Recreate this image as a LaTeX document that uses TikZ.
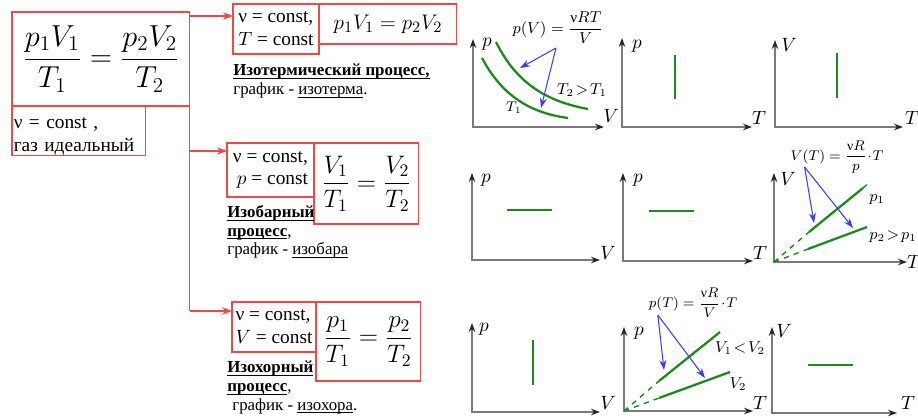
\documentclass[tikz,border=0pt]{standalone}
\usepackage{fontspec}
\setmainfont{Liberation Serif}
\usepackage{amsmath}
\usetikzlibrary{arrows.meta, calc, positioning}
\definecolor{Frame}   {HTML}{F04848}
\definecolor{IsoGreen}{HTML}{1E8A1E}
\definecolor{Pointer} {HTML}{3C3CF5}
\definecolor{AxisGrey}{HTML}{7A7A7A}
\newcommand{\uln}[1]{\underline{\smash[b]{#1}}}

\begin{document}
\begin{tikzpicture}[
  x=0.02cm, y=-0.02cm,
  font=\fontsize{11}{13}\selectfont,
  frame/.style={draw=Frame, line width=0.6pt, outer sep=0pt, inner sep=1pt, anchor=north west},
  cond/.style={frame, align=left},
  law/.style={font=\fontsize{14}{16}\selectfont},
  caption/.style={anchor=north west, align=left, inner sep=0pt, font=\fontsize{9.6}{10.6}\selectfont},
  link/.style={-{Stealth[length=2mm, width=1.5mm]}, draw=Frame, line width=0.6pt},
  axis/.style={{Stealth[length=1.8mm, width=1.3mm, color=black!85]}-{Stealth[length=1.8mm, width=1.3mm, color=black!85]},
               draw=AxisGrey, line width=0.7pt},
  ax/.style={font=\fontsize{11}{12}\selectfont, inner sep=1pt},
  iso/.style={draw=IsoGreen, line width=1.3pt},
  extra/.style={draw=IsoGreen, line width=0.8pt, dashed},
  ptr/.style={-{Stealth[length=2mm, width=1.4mm]}, draw=Pointer, line width=0.6pt},
  small/.style={font=\fontsize{8.6}{10}\selectfont, inner sep=1pt},
  tiny/.style={font=\fontsize{7.8}{9}\selectfont, inner sep=1pt}
]
  \useasboundingbox (0,0) rectangle (918,418);

  % combined gas law and its conditions
  \node[frame, minimum width=3.56cm, minimum height=1.88cm] (eq) at (12,12)
      {\fontsize{16.5}{20}\selectfont $\displaystyle\frac{p_1V_1}{T_1}=\frac{p_2V_2}{T_2}$};
  \node[cond, text width=2.6cm, inner ysep=0pt, minimum height=1cm] (gas) at (eq.south west)
      {\rule{0pt}{12.5pt}ν = const ,\\газ идеальный};

  % isothermal
  \node[cond, minimum width=1.72cm, minimum height=1cm] (condT) at (233,4)
      {ν = const,\\$T$ = const};
  \node[frame, law, minimum width=2.76cm, minimum height=0.8cm] (lawT) at (condT.north east)
      {\fontsize{13}{15}\selectfont $p_1V_1 = p_2V_2$};
  \node[caption] (capT) at (233,64)
      {\uln{\textbf{Изотермический процесс,}}\\график - \uln{изотерма}.};

  % isobaric
  \node[cond, minimum width=1.74cm, minimum height=1.08cm] (condP) at (227,143)
      {ν = const,\\\hspace*{0.8mm}$p$ = const};
  \node[frame, law, minimum width=2.1cm, minimum height=1.62cm] (lawP) at (condP.north east)
      {$\displaystyle\frac{V_1}{T_1}=\frac{V_2}{T_2}$};
  \node[caption] (capP) at (227,205)
      {\uln{\textbf{Изобарный}}\\\uln{\textbf{процесс}},\\график - \uln{изобара}};

  % isochoric
  \node[cond, minimum width=1.68cm, minimum height=1cm] (condV) at (232,302)
      {ν = const,\\$V$ = const};
  \node[frame, law, minimum width=2.1cm, minimum height=1.58cm] (lawV) at (condV.north east)
      {$\displaystyle\frac{p_1}{T_1}=\frac{p_2}{T_2}$};
  \node[caption] (capV) at (227,361)
      {\uln{\textbf{Изохорный}}\\\uln{\textbf{процесс}},\\\hspace*{1mm}график - \uln{изохора}.};

  % branches from the main box
  \coordinate (inT) at ($(condT.north west)+(0,12)$);
  \coordinate (inP) at ($(condP.north west)+(0,8)$);
  \coordinate (inV) at ($(condV.north west)+(0,9)$);
  \draw[link] (eq.east |- inT) -- (inT);
  \draw[draw=Frame, line width=0.6pt] (eq.south east) -- (eq.south east |- inV);
  \draw[link] (eq.south east |- inP) -- (inP);
  \draw[link] (eq.south east |- inV) -- (inV);

  % row 1: isotherms in p-V, p-T, V-T
  \draw[axis] (473,39) |- (604,127);
  \node[ax] at (487,44) {$p$};
  \node[ax] at (611,116) {$V$};
  \draw[iso] (496,42) .. controls (513,76) and (538,100) .. (588,109);
  \draw[iso] (482,58) .. controls (498,88) and (522,112) .. (568,118);
  \node[tiny] at (514,108) {$T_1$};
  \node[small] at (582,90) {$T_2\!>\!T_1$};
  \node[small] (formT) at (558,28) {$p(V)=\dfrac{\mbox{ν}RT}{V}$};
  \coordinate (fromT) at ($(formT.south)+(-2,2)$);
  \coordinate (onT1) at (520,68);
  \coordinate (onT2) at (541,108);
  \draw[ptr] (fromT) -- (onT1);
  \draw[ptr] (fromT) -- (onT2);

  \draw[axis] (622,38) |- (752,127);
  \node[ax] at (637,46) {$p$};
  \node[ax] at (759,118) {$T$};
  \draw[iso] (675,55) -- (675,99);

  \draw[axis] (775,40) |- (903,127);
  \node[ax] at (789,45) {$V$};
  \node[ax] at (912,118) {$T$};
  \draw[iso] (837,53) -- (837,98);

  % row 2: isobars in p-V, p-T, V-T
  \draw[axis] (472,173) |- (600,260);
  \node[ax] at (486,180) {$p$};
  \node[ax] at (608,253) {$V$};
  \draw[iso] (507,210) -- (552,210);

  \draw[axis] (623,173) |- (753,261);
  \node[ax] at (638,180) {$p$};
  \node[ax] at (760,253) {$T$};
  \draw[iso] (649,211) -- (694,211);

  \draw[axis] (774,173) |- (907,262);
  \node[ax] at (788,179) {$V$};
  \node[ax] at (914,262) {$T$};
  \draw[extra] (774,262) -- (809,232);
  \draw[iso] (809,232) -- (863,188);
  \draw[extra] (863,188) -- (870,182);
  \draw[extra] (774,262) -- (808,249);
  \draw[iso] (808,249) -- (867,227);
  \node[small] at (877,200) {$p_1$};
  \node[small] at (893,237) {$p_2\!>\!p_1$};
  \node[tiny] (formP) at (837,157) {$V(T)=\dfrac{\mbox{ν}R}{p}\!\cdot\! T$};
  \coordinate (fromP) at ($(formP.west)+(16,10)$);
  \coordinate (onP1) at (814,223);
  \coordinate (onP2) at (853,228);
  \draw[ptr] (fromP) -- (onP1);
  \draw[ptr] (fromP) -- (onP2);

  % row 3: isochores in p-V, p-T, V-T
  \draw[axis] (472,323) |- (600,412);
  \node[ax] at (484,329) {$p$};
  \node[ax] at (608,403) {$V$};
  \draw[iso] (533,340) -- (533,385);

  \draw[axis] (624,327) |- (753,411);
  \node[ax] at (639,333) {$p$};
  \node[ax] at (760,403) {$T$};
  \draw[extra] (624,411) -- (659,381);
  \draw[iso] (659,381) -- (720,332);
  \draw[extra] (624,411) -- (659,398);
  \draw[iso] (659,398) -- (730,372);
  \node[small] at (740,348) {$V_1\!<\!V_2$};
  \node[small] at (738,384) {$V_2$};
  \node[tiny] (formV) at (693,303) {$p(T)=\dfrac{\mbox{ν}R}{V}\!\cdot\! T$};
  \coordinate (fromV) at ($(formV.west)+(11,12)$);
  \coordinate (onV1) at (664,370);
  \coordinate (onV2) at (705,378);
  \draw[ptr] (fromV) -- (onV1);
  \draw[ptr] (fromV) -- (onV2);

  \draw[axis] (772,327) |- (897,413);
  \node[ax] at (784,331) {$V$};
  \node[ax] at (908,403) {$T$};
  \draw[iso] (808,365) -- (853,365);
\end{tikzpicture}
\end{document}
